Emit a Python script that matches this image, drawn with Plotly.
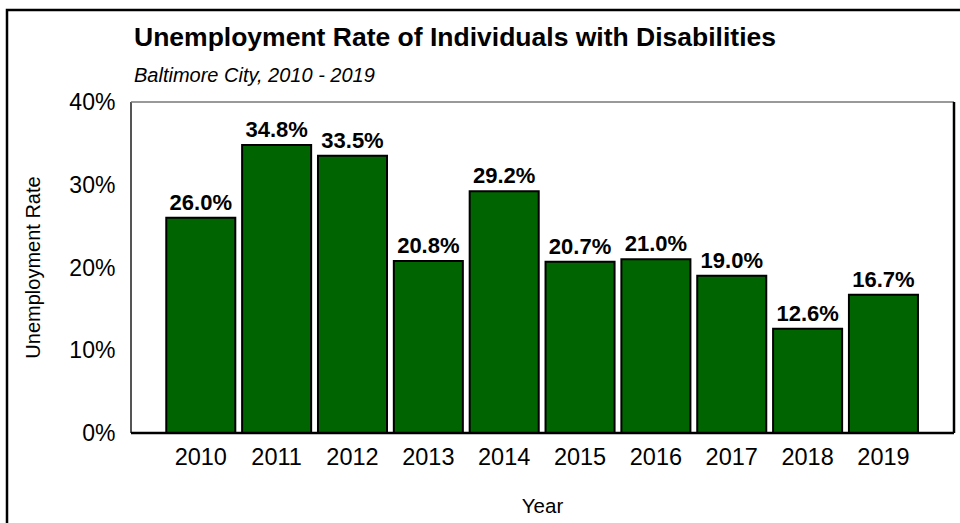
import plotly.graph_objects as go

years = ["2010", "2011", "2012", "2013", "2014", "2015", "2016", "2017", "2018", "2019"]
rates = [26.0, 34.8, 33.5, 20.8, 29.2, 20.7, 21.0, 19.0, 12.6, 16.7]
labels = [f"{v:.1f}%" for v in rates]
y_ticks = [0, 10, 20, 30, 40]
y_tick_text = [f"{t}%" for t in y_ticks]

FONT = "Liberation Sans, Arial, sans-serif"

fig = go.Figure(go.Bar(
    x=years, y=rates, text=labels, textposition="outside",
    textfont=dict(family=FONT, size=22, color="black", weight="bold"),
    marker=dict(color="#006400", line=dict(color="black", width=2)),
    width=0.91, cliponaxis=False,
))

L, R, T, B = 131, 6, 102, 90
W, H = 960, 523
pw, ph = W - L - R, H - T - B

fig.update_layout(
    width=W, height=H,
    margin=dict(l=L, r=R, t=T, b=B),
    paper_bgcolor="white", plot_bgcolor="white",
    showlegend=False,
    font=dict(family=FONT, color="black"),
    xaxis=dict(
        type="category", range=[-0.92, 9.93],
        showgrid=False, zeroline=False, showline=False,
        ticks="outside", ticklen=3, tickcolor="rgba(0,0,0,0)",
        tickfont=dict(size=23.5, family=FONT, color="black"),
        title=dict(text="Year", font=dict(size=20.5, family=FONT, color="black"), standoff=29),
    ),
    yaxis=dict(
        range=[0, 40], tickvals=y_ticks, ticktext=y_tick_text,
        showgrid=False, zeroline=False, showline=False,
        ticks="outside", ticklen=10, tickcolor="rgba(0,0,0,0)",
        tickfont=dict(size=23, family=FONT, color="black"),
        title=dict(text="Unemployment Rate", font=dict(size=20, family=FONT, color="black"), standoff=23),
    ),
    bargap=0.09,
)

def px_x(x):
    return (x - L) / pw

def px_y(y):
    return (H - B - y) / ph

shapes = [
    dict(type="rect", xref="paper", yref="paper",
         x0=px_x(7), x1=px_x(964), y0=px_y(527), y1=px_y(10),
         line=dict(color="black", width=2.5), layer="above"),
    dict(type="line", xref="paper", yref="paper", x0=0, x1=0, y0=0, y1=1,
         line=dict(color="#555555", width=2), layer="above"),
    dict(type="line", xref="paper", yref="paper", x0=0, x1=1, y0=1, y1=1,
         line=dict(color="#777777", width=1.5), layer="above"),
    dict(type="line", xref="paper", yref="paper", x0=0, x1=1, y0=0, y1=0,
         line=dict(color="black", width=2.5), layer="above"),
    dict(type="line", xref="paper", yref="paper", x0=1, x1=1, y0=0, y1=1,
         line=dict(color="black", width=2.5), layer="above"),
]
fig.update_layout(shapes=shapes)

fig.add_annotation(
    xref="paper", yref="paper", x=px_x(132), y=px_y(37),
    xanchor="left", yanchor="middle", showarrow=False,
    text="<b>Unemployment Rate of Individuals with Disabilities</b>",
    font=dict(size=26.5, family=FONT, color="black"),
)
fig.add_annotation(
    xref="paper", yref="paper", x=px_x(132), y=px_y(75),
    xanchor="left", yanchor="middle", showarrow=False,
    text="<i>Baltimore City, 2010 - 2019</i>",
    font=dict(size=20, family=FONT, color="black"),
)

fig.write_html("out.html")
